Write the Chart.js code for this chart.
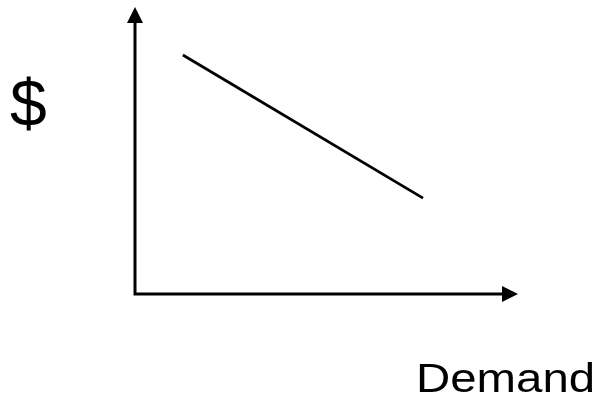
<!DOCTYPE html>
<html>
<head>
<meta charset="utf-8">
<script src="https://cdn.jsdelivr.net/npm/chart.js@4.4.0/dist/chart.umd.min.js"></script>
<style>
  html, body { margin: 0; padding: 0; background: #fff; }
  #wrap { width: 600px; height: 403px; }
</style>
</head>
<body>
<div id="wrap"><canvas id="demandChart"></canvas></div>
<script>
// demand line, two ends in axis units (0..10 both ways)
const demandX = [1.25, 7.52];
const demandY = [8.33, 3.34];
const axisMax = 10;
const yLabel = '$';
const xLabel = 'Demand';

const ctx = document.getElementById('demandChart').getContext('2d');

// axes with arrow heads, drawn off the scales
const arrowAxes = {
    id: 'arrowAxes',
    beforeDatasetsDraw(chart) {
        const c = chart.ctx;
        const xs = chart.scales.x, ys = chart.scales.y;
        const x0 = xs.getPixelForValue(0), xEnd = xs.getPixelForValue(axisMax);
        const y0 = ys.getPixelForValue(0), yEnd = ys.getPixelForValue(axisMax);
        c.save();
        c.strokeStyle = '#000';
        c.fillStyle = '#000';
        c.lineWidth = 3;
        c.beginPath();
        c.moveTo(x0, y0);
        c.lineTo(x0, yEnd + 14);
        c.moveTo(x0 - 1.5, y0);
        c.lineTo(xEnd - 14, y0);
        c.stroke();
        // up arrow
        c.beginPath();
        c.moveTo(x0, yEnd);
        c.lineTo(x0 - 8, yEnd + 16);
        c.lineTo(x0 + 8, yEnd + 16);
        c.closePath();
        c.fill();
        // right arrow
        c.beginPath();
        c.moveTo(xEnd, y0);
        c.lineTo(xEnd - 16, y0 - 8);
        c.lineTo(xEnd - 16, y0 + 8);
        c.closePath();
        c.fill();
        c.restore();
    }
};

// the two text labels; "Demand" is a bit wide like the original slide
const axisLabels = {
    id: 'axisLabels',
    afterDraw(chart) {
        const c = chart.ctx;
        c.save();
        c.fillStyle = '#000';
        c.textBaseline = 'alphabetic';
        c.textAlign = 'left';
        c.font = '66px "Liberation Sans", Arial, sans-serif';
        c.fillText(yLabel, 10, 126);
        c.restore();

        c.save();
        c.fillStyle = '#000';
        c.textBaseline = 'alphabetic';
        c.textAlign = 'left';
        c.font = '40.5px "Liberation Sans", Arial, sans-serif';
        c.translate(416, 392);
        c.scale(1.17, 1);
        c.fillText(xLabel, 0, 0);
        c.restore();
    }
};

const data = {
    datasets: [{
        data: demandX.map((x, i) => ({ x: x, y: demandY[i] })),
        borderColor: '#000',
        borderWidth: 2.8,
        pointRadius: 0,
        showLine: true,
        fill: false
    }]
};

const config = {
    type: 'scatter',
    data: data,
    options: {
        responsive: true,
        maintainAspectRatio: false,
        animation: false,
        layout: {
            padding: { left: 135, top: 7, right: 82, bottom: 109 }
        },
        scales: {
            x: { type: 'linear', min: 0, max: axisMax, display: false },
            y: { type: 'linear', min: 0, max: axisMax, display: false }
        },
        plugins: {
            legend: { display: false },
            tooltip: { enabled: false }
        }
    },
    plugins: [arrowAxes, axisLabels]
};

const demandChart = new Chart(ctx, config);
</script>
</body>
</html>
